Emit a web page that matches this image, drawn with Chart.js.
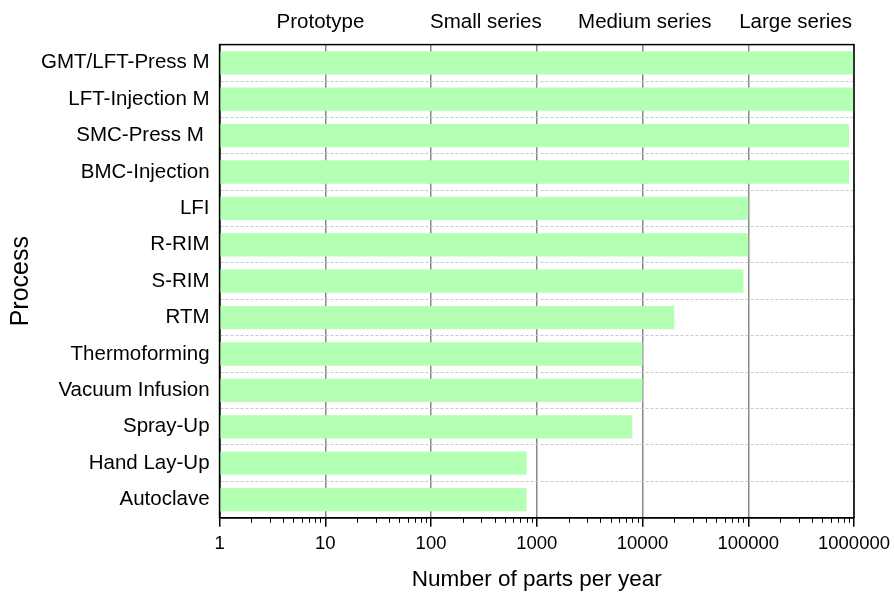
<!DOCTYPE html>
<html>
<head>
<meta charset="utf-8">
<script src="https://cdn.jsdelivr.net/npm/chart.js@4/dist/chart.umd.min.js"></script>
<style>
  html, body { margin: 0; padding: 0; background: #fff; }
  #wrap { width: 894px; height: 593px; }
</style>
</head>
<body>
<div id="wrap"><canvas id="processChart"></canvas></div>
<script>
const processes = ['GMT/LFT-Press M', 'LFT-Injection M', 'SMC-Press M ', 'BMC-Injection', 'LFI', 'R-RIM', 'S-RIM', 'RTM', 'Thermoforming', 'Vacuum Infusion', 'Spray-Up', 'Hand Lay-Up', 'Autoclave'];
const partsPerYear = [1000000, 1000000, 900000, 900000, 100000, 100000, 90000, 20000, 10000, 10000, 8000, 800, 800];
const decadeTicks = [1, 10, 100, 1000, 10000, 100000, 1000000];
const seriesNames = ['Prototype', 'Small series', 'Medium series', 'Large series'];
const seriesAt = [9, 330, 10500, 280000];

const font = 'Arial, "Liberation Sans", sans-serif';

// frame around the plot + short minor ticks under the x axis
const framePlugin = {
    id: 'frame',
    afterDraw(chart) {
        const c = chart.ctx, a = chart.chartArea, x = chart.scales.x;
        c.save();
        c.strokeStyle = '#000';
        c.lineWidth = 1.5;
        c.strokeRect(a.left, a.top, a.right - a.left, a.bottom - a.top);
        c.lineWidth = 1;
        c.beginPath();
        for (let d = 1; d < 1000000; d *= 10) {
            for (let m = 2; m <= 9; m++) {
                const px = Math.round(x.getPixelForValue(d * m)) + 0.5;
                c.moveTo(px, a.bottom);
                c.lineTo(px, a.bottom + 5);
            }
        }
        c.stroke();
        c.restore();
    }
};

new Chart(document.getElementById('processChart'), {
    type: 'bar',
    data: {
        labels: processes,
        datasets: [{
            data: partsPerYear,
            backgroundColor: '#b3ffb3',
            borderWidth: 0,
            barPercentage: 0.64,
            categoryPercentage: 1
        }]
    },
    plugins: [framePlugin],
    options: {
        indexAxis: 'y',
        responsive: true,
        maintainAspectRatio: false,
        animation: false,
        layout: { padding: { left: 11, right: 40, top: 0, bottom: 0 } },
        plugins: {
            legend: { display: false },
            tooltip: { enabled: false }
        },
        scales: {
            x: {
                type: 'logarithmic',
                position: 'bottom',
                min: 1,
                max: 1000000,
                afterBuildTicks: s => { s.ticks = decadeTicks.map(v => ({ value: v })); },
                afterFit: s => { s.paddingRight = 0; },
                ticks: {
                    color: '#000',
                    font: { family: font, size: 18.5 },
                    padding: 6,
                    maxRotation: 0,
                    autoSkip: false,
                    callback: v => String(v)
                },
                grid: {
                    color: '#888',
                    lineWidth: 1.5,
                    tickColor: '#000',
                    tickLength: 9
                },
                border: { color: '#000', width: 1.5 },
                title: {
                    display: true,
                    text: 'Number of parts per year',
                    color: '#000',
                    font: { family: font, size: 22.5 },
                    padding: { top: 5, bottom: 0 }
                }
            },
            top: {
                type: 'logarithmic',
                position: 'top',
                axis: 'x',
                min: 1,
                max: 1000000,
                afterBuildTicks: s => { s.ticks = seriesAt.map(v => ({ value: v })); },
                afterFit: s => { s.paddingRight = 0; },
                ticks: {
                    color: '#000',
                    font: { family: font, size: 20.5 },
                    padding: 10,
                    maxRotation: 0,
                    autoSkip: false,
                    callback: (v, i) => seriesNames[i]
                },
                grid: { display: false, drawTicks: false },
                border: { display: false }
            },
            y: {
                ticks: {
                    color: '#000',
                    font: { family: font, size: 20.5 },
                    padding: 10,
                    autoSkip: false
                },
                grid: {
                    offset: true,
                    color: '#c8c8c8',
                    lineWidth: 1,
                    drawTicks: false
                },
                border: { color: '#000', width: 1.5, dash: [3, 2] },
                title: {
                    display: true,
                    text: 'Process',
                    color: '#000',
                    font: { family: font, size: 25, lineHeight: 0.8 },
                    padding: { top: 0, bottom: 0 }
                }
            }
        }
    }
});
</script>
</body>
</html>
